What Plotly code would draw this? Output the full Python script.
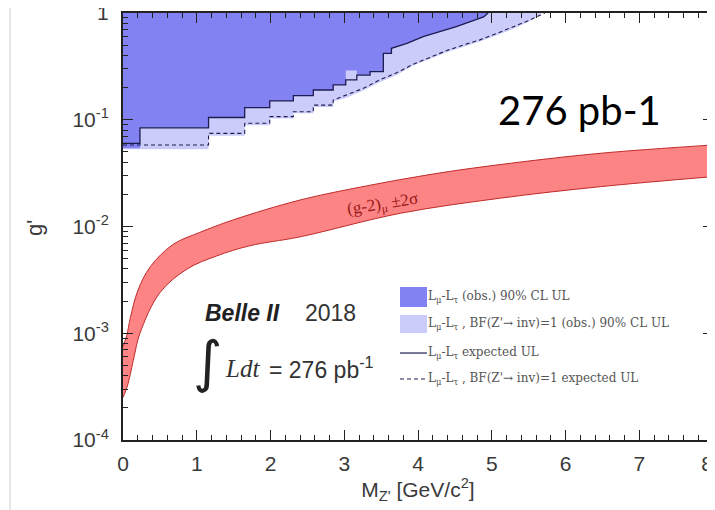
import plotly.graph_objects as go

# ---------------- data ----------------
# observed 90% CL UL, L_mu - L_tau (dark blue region lower edge)
obs_edges = [0, 0.23, 1.16, 1.65, 1.99, 2.31, 2.58, 2.85, 3.02, 3.17, 3.35, 3.53, 3.64]
obs_vals = [0.054, 0.084, 0.105, 0.130, 0.150, 0.168, 0.190, 0.212, 0.29, 0.262, 0.282, 0.419]
obs_tail_m = [3.64, 3.85, 4.07, 4.30, 4.52, 4.71, 4.89, 4.95]
obs_tail_g = [0.467, 0.52, 0.60, 0.67, 0.745, 0.83, 0.92, 1.0]

# expected UL, L_mu - L_tau (solid line)
exp_edges = [0, 0.23, 1.16, 1.65, 1.99, 2.31, 2.58, 2.85, 3.02, 3.17, 3.35, 3.53, 3.64]
exp_vals = [0.060, 0.084, 0.105, 0.130, 0.150, 0.168, 0.190, 0.212, 0.236, 0.262, 0.282, 0.419]
exp_tail_m = [3.64, 3.85, 4.07, 4.30, 4.52, 4.71, 4.89, 4.95]
exp_tail_g = [0.467, 0.52, 0.60, 0.67, 0.745, 0.83, 0.92, 1.0]

# observed 90% CL UL, BF(Z'->inv)=1 (light blue region lower edge)
lobs_edges = [0, 1.16, 1.65, 1.99, 2.31, 2.58, 2.85]
lobs_vals = [0.053, 0.071, 0.089, 0.103, 0.115, 0.132]
lobs_tail_m = [2.85, 3.02, 3.26, 3.48, 3.71, 3.93, 4.16, 4.39, 4.61, 4.84, 5.07, 5.25, 5.5, 5.68]
lobs_tail_g = [0.148, 0.160, 0.188, 0.225, 0.262, 0.32, 0.37, 0.43, 0.48, 0.54, 0.62, 0.69, 0.83, 1.0]

# expected UL, BF(Z'->inv)=1 (dashed line)
dexp_edges = [0, 1.16, 1.65, 1.99, 2.31, 2.58, 2.85]
dexp_vals = [0.058, 0.0746, 0.0926, 0.107, 0.119, 0.137]
dexp_tail_m = [2.85, 3.03, 3.26, 3.48, 3.71, 3.93, 4.16, 4.39, 4.61, 4.84, 5.07, 5.25, 5.5, 5.72]
dexp_tail_g = [0.153, 0.17, 0.197, 0.236, 0.275, 0.33, 0.385, 0.445, 0.50, 0.56, 0.645, 0.72, 0.85, 1.0]

# (g-2)_mu +-2 sigma band
gm2_up_m = [0, 0.05, 0.1, 0.2, 0.37, 0.68, 1.04, 1.49, 2.4, 3.3, 4.2, 5.11, 6.47, 8.0]
gm2_up_g = [7.5e-4, 9.5e-4, 1.4e-3, 2.5e-3, 4.2e-3, 6.8e-3, 8.8e-3, 0.0115, 0.0177, 0.024, 0.031, 0.038, 0.0485, 0.058]
gm2_lo_m = [0, 0.03, 0.07, 0.15, 0.23, 0.5, 0.87, 1.27, 1.72, 2.4, 3.76, 5.11, 6.47, 8.0]
gm2_lo_g = [2.5e-4, 2.8e-4, 3.4e-4, 6e-4, 1.0e-3, 2.4e-3, 4.0e-3, 5.3e-3, 6.6e-3, 8.0e-3, 0.0133, 0.0184, 0.0236, 0.0293]

x_ticks = [0, 1, 2, 3, 4, 5, 6, 7, 8]
x_ticktext = ["0", "1", "2", "3", "4", "5", "6", "7", "8\u00a0\u00a0"]
y_ticks = [1e-4, 1e-3, 1e-2, 1e-1, 1]
y_ticktext = ["10<sup>-4</sup>", "10<sup>-3</sup>", "10<sup>-2</sup>", "10<sup>-1</sup>", "1"]

# ---------------- helpers ----------------
def step_path(edges, vals, tail_m, tail_g):
    xs, ys = [], []
    for i, v in enumerate(vals):
        xs += [edges[i], edges[i + 1]]
        ys += [v, v]
    xs += list(tail_m)
    ys += list(tail_g)
    return xs, ys


def region(edges, vals, tail_m, tail_g, top=1.0):
    xs, ys = step_path(edges, vals, tail_m, tail_g)
    xs += [xs[-1], xs[0]]
    ys += [top, top]
    return xs, ys


DARK = "rgb(130,130,242)"
LIGHT = "rgb(204,204,250)"
LINEC = "#1c1c50"
RED_FILL = "rgb(252,132,132)"
RED_LINE = "#c02a2a"

fig = go.Figure()

lx, ly = region(lobs_edges, lobs_vals, lobs_tail_m, lobs_tail_g)
fig.add_trace(go.Scatter(x=lx, y=ly, mode="lines", fill="toself", fillcolor=LIGHT,
                         line=dict(width=0), hoverinfo="skip", showlegend=False))
dx, dy = region(obs_edges, obs_vals, obs_tail_m, obs_tail_g)
fig.add_trace(go.Scatter(x=dx, y=dy, mode="lines", fill="toself", fillcolor=DARK,
                         line=dict(width=0), hoverinfo="skip", showlegend=False))

# g-2 band
fig.add_trace(go.Scatter(x=gm2_lo_m, y=gm2_lo_g, mode="lines", line=dict(color=RED_LINE, width=1),
                         showlegend=False, line_shape="spline"))
fig.add_trace(go.Scatter(x=gm2_up_m, y=gm2_up_g, mode="lines", line=dict(color=RED_LINE, width=1),
                         fill="tonexty", fillcolor=RED_FILL, showlegend=False, line_shape="spline"))

ex, ey = step_path(exp_edges, exp_vals, exp_tail_m, exp_tail_g)
fig.add_trace(go.Scatter(x=ex, y=ey, mode="lines", line=dict(color=LINEC, width=1.3),
                         showlegend=False))
bx, by = step_path(dexp_edges, dexp_vals, dexp_tail_m, dexp_tail_g)
fig.add_trace(go.Scatter(x=bx, y=by, mode="lines", line=dict(color=LINEC, width=1.1, dash="4px,3px"),
                         showlegend=False))

AXF = dict(family="Liberation Sans, Arial, sans-serif", size=21, color="#3a3a3a")

# the page body has an 8 px margin, so the figure is 8 px smaller than the window
fig.update_layout(
    width=707, height=502,
    margin=dict(l=115, r=2, t=5, b=70, autoexpand=False),
    paper_bgcolor="white", plot_bgcolor="white",
    showlegend=False,
    xaxis=dict(range=[0, 8], tickvals=x_ticks, ticktext=x_ticktext, ticks="inside", ticklen=10,
               tickwidth=1.2, automargin=False, ticklabeloverflow="allow",
               tickcolor="#222", showline=True, linecolor="#222", linewidth=2, mirror="ticks",
               showgrid=False, zeroline=False, tickfont=AXF, ticklabelstandoff=4,
               minor=dict(dtick=0.2, ticks="inside", ticklen=5, tickcolor="#222", tickwidth=1),
               title=dict(text="M<sub>Z'</sub> [GeV/c<sup>2</sup>]", font=AXF, standoff=2)),
    yaxis=dict(type="log", range=[-4, 0], tickvals=y_ticks, ticktext=y_ticktext, automargin=False,
               ticklabeloverflow="allow",
               ticks="inside", ticklen=10, tickwidth=1.2, tickcolor="#222",
               showline=True, linecolor="#222", linewidth=2, mirror="ticks",
               showgrid=False, zeroline=False, tickfont=AXF, ticklabelstandoff=8,
               minor=dict(tickvals=[k * 10 ** e for e in (-4, -3, -2, -1) for k in range(2, 10)],
                          ticks="inside", ticklen=5, tickcolor="#222", tickwidth=1)),
)

# page edge line at left (slide border)
fig.add_shape(type="line", xref="paper", yref="paper", x0=-0.1915, x1=-0.1915, y0=-0.17, y1=1.02,
              line=dict(color="#dddddd", width=1.5))


def note(x, y, text, font, xanchor="center", angle=0):
    fig.add_annotation(xref="paper", yref="paper", x=x, y=y, xanchor=xanchor, yanchor="middle",
                       text=text, showarrow=False, textangle=angle, font=font)


# y title
note(-0.149, 0.4965, "g'", dict(family="Liberation Sans, Arial", size=22, color="#3a3a3a"), angle=-90)

# big label
note(0.7729, 0.7728, "276 pb-1", dict(family="Lato, Open Sans, sans-serif", size=40, color="black"))

# g-2 label
note(0.4407, 0.5504, "(g-2)<sub>μ</sub> ±2σ",
     dict(family="Liberation Serif, Times New Roman, serif", size=17, color="#9a1818"), angle=-9)

# Belle II text
note(0.1356, 0.2974, "<b><i>Belle II</i></b>",
     dict(family="Liberation Sans, Arial", size=23, color="#222"), xanchor="left")
note(0.3051, 0.2974, "2018", dict(family="Liberation Sans, Arial", size=23, color="#333"), xanchor="left")
note(0.1424, 0.185, "∫", dict(family="DejaVu Sans, sans-serif", size=56, color="#222"))
note(0.1695, 0.1686, "<i>Ldt</i>",
     dict(family="Liberation Serif, Times New Roman, serif", size=25, color="#333"), xanchor="left")
note(0.2441, 0.1686, "= 276 pb<sup>-1</sup>",
     dict(family="Liberation Sans, Arial", size=23, color="#333"), xanchor="left")

# custom legend
LEGF = dict(family="DejaVu Serif, serif", size=12, color="#555")
x0p, x1p = 0.4695, 0.5153
fig.add_shape(type="rect", xref="paper", yref="paper", x0=x0p, x1=x1p, y0=0.3115, y1=0.3583,
              fillcolor=DARK, line=dict(width=0))
fig.add_shape(type="rect", xref="paper", yref="paper", x0=x0p, x1=x1p, y0=0.2506, y1=0.2927,
              fillcolor=LIGHT, line=dict(width=0))
fig.add_shape(type="line", xref="paper", yref="paper", x0=x0p, x1=x1p, y0=0.2037, y1=0.2037,
              line=dict(color=LINEC, width=1.2))
fig.add_shape(type="line", xref="paper", yref="paper", x0=x0p, x1=x1p, y0=0.1429, y1=0.1429,
              line=dict(color=LINEC, width=1.1, dash="4px,3px"))
leg_texts = [
    "L<sub>μ</sub>-L<sub>τ</sub> (obs.) 90% CL UL",
    "L<sub>μ</sub>-L<sub>τ</sub> , BF(Z'→ inv)=1 (obs.) 90% CL UL",
    "L<sub>μ</sub>-L<sub>τ</sub> expected UL",
    "L<sub>μ</sub>-L<sub>τ</sub> , BF(Z'→ inv)=1 expected UL",
]
leg_y = [0.3349, 0.2717, 0.2037, 0.1429]
for t, yy in zip(leg_texts, leg_y):
    note(0.5136, yy, t, LEGF, xanchor="left")

fig.write_html("out.html")
